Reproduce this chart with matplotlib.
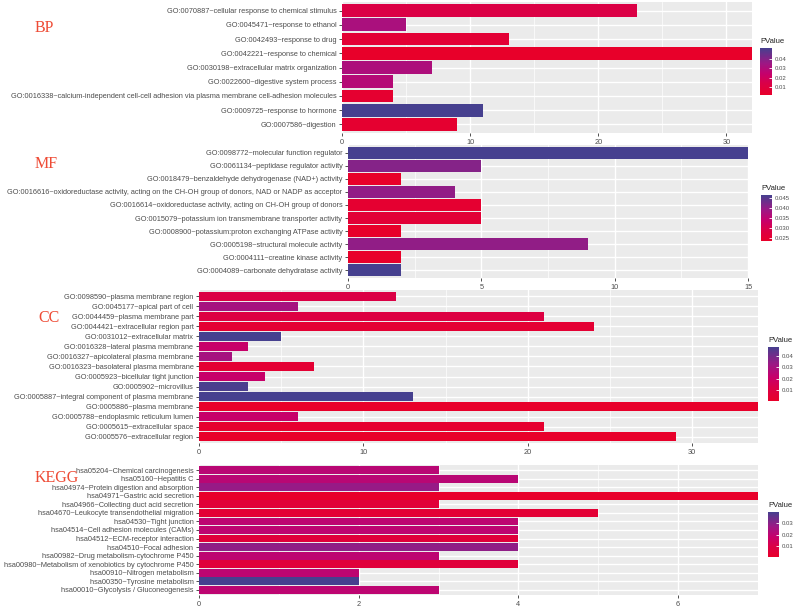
#!/usr/bin/env python3
"""
GO / KEGG enrichment bar panels (BP, MF, CC, KEGG) coloured by PValue
"""

import numpy as np
import matplotlib
matplotlib.use("Agg")
import matplotlib.pyplot as plt
from matplotlib.colors import LinearSegmentedColormap, Normalize

# ---- data (top to bottom as in the figure) ----
bp_terms = [
    "GO:0070887~cellular response to chemical stimulus",
    "GO:0045471~response to ethanol",
    "GO:0042493~response to drug",
    "GO:0042221~response to chemical",
    "GO:0030198~extracellular matrix organization",
    "GO:0022600~digestive system process",
    "GO:0016338~calcium-independent cell-cell adhesion via plasma membrane cell-adhesion molecules",
    "GO:0009725~response to hormone",
    "GO:0007586~digestion",
]
bp_counts = [23, 5, 13, 32, 7, 4, 4, 11, 9]
bp_pvals = [0.013, 0.032, 0.006, 0.0014, 0.031, 0.029, 0.004, 0.052, 0.004]

mf_terms = [
    "GO:0098772~molecular function regulator",
    "GO:0061134~peptidase regulator activity",
    "GO:0018479~benzaldehyde dehydrogenase (NAD+) activity",
    "GO:0016616~oxidoreductase activity, acting on the CH-OH group of donors, NAD or NADP as acceptor",
    "GO:0016614~oxidoreductase activity, acting on CH-OH group of donors",
    "GO:0015079~potassium ion transmembrane transporter activity",
    "GO:0008900~potassium:proton exchanging ATPase activity",
    "GO:0005198~structural molecule activity",
    "GO:0004111~creatine kinase activity",
    "GO:0004089~carbonate dehydratase activity",
]
mf_counts = [15, 5, 2, 4, 5, 5, 2, 9, 2, 2]
mf_pvals = [0.0463, 0.041, 0.0237, 0.040, 0.025, 0.026, 0.0237, 0.040, 0.0237, 0.0463]

cc_terms = [
    "GO:0098590~plasma membrane region",
    "GO:0045177~apical part of cell",
    "GO:0044459~plasma membrane part",
    "GO:0044421~extracellular region part",
    "GO:0031012~extracellular matrix",
    "GO:0016328~lateral plasma membrane",
    "GO:0016327~apicolateral plasma membrane",
    "GO:0016323~basolateral plasma membrane",
    "GO:0005923~bicellular tight junction",
    "GO:0005902~microvillus",
    "GO:0005887~integral component of plasma membrane",
    "GO:0005886~plasma membrane",
    "GO:0005788~endoplasmic reticulum lumen",
    "GO:0005615~extracellular space",
    "GO:0005576~extracellular region",
]
cc_counts = [12, 6, 21, 24, 5, 3, 2, 7, 4, 3, 13, 34, 6, 21, 29]
cc_pvals = [0.011, 0.030, 0.010, 0.004, 0.048, 0.021, 0.030, 0.004, 0.021, 0.047,
            0.048, 0.0001, 0.021, 0.002, 0.0001]

kegg_terms = [
    "hsa05204~Chemical carcinogenesis",
    "hsa05160~Hepatitis C",
    "hsa04974~Protein digestion and absorption",
    "hsa04971~Gastric acid secretion",
    "hsa04966~Collecting duct acid secretion",
    "hsa04670~Leukocyte transendothelial migration",
    "hsa04530~Tight junction",
    "hsa04514~Cell adhesion molecules (CAMs)",
    "hsa04512~ECM-receptor interaction",
    "hsa04510~Focal adhesion",
    "hsa00982~Drug metabolism-cytochrome P450",
    "hsa00980~Metabolism of xenobiotics by cytochrome P450",
    "hsa00910~Nitrogen metabolism",
    "hsa00350~Tyrosine metabolism",
    "hsa00010~Glycolysis / Gluconeogenesis",
]
kegg_counts = [3, 4, 3, 7, 3, 5, 4, 4, 4, 4, 3, 4, 2, 2, 3]
kegg_pvals = [0.021, 0.021, 0.028, 0.0002, 0.005, 0.004, 0.020, 0.020, 0.006, 0.029,
              0.020, 0.006, 0.020, 0.040, 0.020]

cmap = LinearSegmentedColormap.from_list(
    "pv", [(0.0, "#E8002A"), (0.25, "#DA0048"), (0.45, "#C6006C"),
           (0.68, "#9C1885"), (1.0, "#46408F")])

W, H = 800, 606
fig = plt.figure(figsize=(W / 100, H / 100), dpi=100)
plt.rcParams["font.family"] = ["Liberation Sans", "DejaVu Sans"]


def px_axes(left, top, right, bottom):
    return fig.add_axes([left / W, 1 - bottom / H, (right - left) / W, (bottom - top) / H])


def draw_panel(box, cbox, terms, counts, pvals, xmax, xticks, cticks, cfmt, name, name_xy):
    ax = px_axes(*box)
    n = len(terms)
    y = np.arange(n)[::-1] + 1
    norm = Normalize(min(pvals), max(pvals))
    ax.set_facecolor("#EBEBEB")
    ax.barh(y, counts, height=0.9, color=cmap(norm(np.array(pvals))), zorder=3)
    ax.set_xlim(0, xmax)
    ax.set_ylim(0.4, n + 0.6)
    ax.set_yticks(y)
    ax.set_yticklabels(terms)
    ax.set_xticks(xticks)
    step = xticks[1] - xticks[0]
    ax.set_xticks(np.arange(step / 2, xmax, step), minor=True)
    ax.grid(True, which="major", color="white", lw=1.0, zorder=1)
    ax.grid(True, which="minor", axis="x", color="white", lw=0.5, zorder=1)
    ax.tick_params(axis="both", which="major", labelsize=5.3, colors="#333333",
                   labelcolor="#4D4D4D", length=2.5, width=0.6, pad=1.5)
    ax.tick_params(axis="x", which="minor", length=0)
    for s in ax.spines.values():
        s.set_visible(False)

    cax = px_axes(*cbox)
    sm = plt.cm.ScalarMappable(norm=norm, cmap=cmap)
    cb = fig.colorbar(sm, cax=cax)
    cb.outline.set_visible(False)
    cb.set_ticks(cticks)
    cb.set_ticklabels([cfmt % t for t in cticks])
    cax.tick_params(labelsize=4.3, colors="white", labelcolor="#4D4D4D",
                    direction="in", length=2.5, width=0.6, pad=2)
    fig.text(cbox[0] / W, 1 - (cbox[1] - 3) / H, "PValue", fontsize=5.5,
             color="#222222", ha="left", va="bottom")

    fig.text(name_xy[0] / W, 1 - name_xy[1] / H, name, fontsize=11.5,
             color="#EE4B35", family="Liberation Serif", ha="left", va="center")


draw_panel((342, 2, 752, 133), (760, 48, 772, 95), bp_terms, bp_counts, bp_pvals,
           32, [0, 10, 20, 30], [0.01, 0.02, 0.03, 0.04], "%.2f", "BP", (35, 28))
draw_panel((348, 145, 748, 278), (761, 195, 772, 241), mf_terms, mf_counts, mf_pvals,
           15, [0, 5, 10, 15], [0.025, 0.030, 0.035, 0.040, 0.045], "%.3f", "MF", (35, 164))
draw_panel((199, 290, 758, 443), (768, 347, 779, 401), cc_terms, cc_counts, cc_pvals,
           34, [0, 10, 20, 30], [0.01, 0.02, 0.03, 0.04], "%.2f", "CC", (38, 318))
draw_panel((199, 465, 758, 595), (768, 512, 779, 557), kegg_terms, kegg_counts, kegg_pvals,
           7, [0, 2, 4, 6], [0.01, 0.02, 0.03], "%.2f", "KEGG", (35, 478))

fig.savefig("out.png", dpi=100)
